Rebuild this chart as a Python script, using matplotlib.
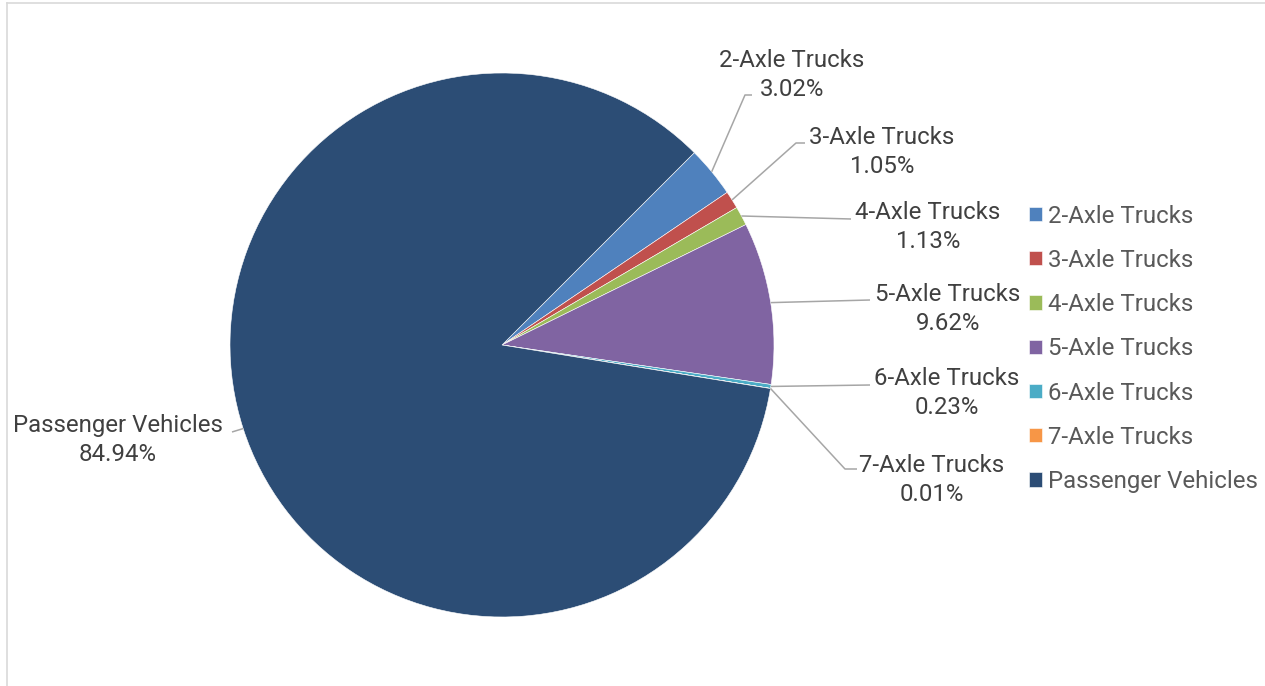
import numpy as np
import matplotlib.pyplot as plt
from matplotlib.lines import Line2D

plt.rcParams['font.family'] = ['Roboto', 'DejaVu Sans']

# data
categories = ['2-Axle Trucks', '3-Axle Trucks', '4-Axle Trucks', '5-Axle Trucks',
              '6-Axle Trucks', '7-Axle Trucks', 'Passenger Vehicles']
shares = [3.02, 1.05, 1.13, 9.62, 0.23, 0.01, 84.94]
colors = ['#4f81bd', '#c0504d', '#9bbb59', '#8064a2', '#4bacc6', '#f79646', '#2c4d75']

W, H = 1265, 686
fig = plt.figure(figsize=(W / 100, H / 100), dpi=100)
ax = fig.add_axes([0, 0, 1, 1])

# pixel-like coordinates, y measured from the top
cx, cy, R = 502, 345, 272
wedges, _ = ax.pie(shares, colors=colors, startangle=45, counterclock=False,
                   center=(cx, H - cy), radius=R,
                   wedgeprops=dict(edgecolor='white', linewidth=0.4))
ax.set_xlim(0, W)
ax.set_ylim(0, H)
ax.set_aspect('auto')
ax.axis('off')

# label layout: (text center x, baseline of name, leader path after the anchor)
label_layout = [
    (792, 67, [(745, 95), (752, 95)]),
    (882, 144, [(796, 143), (805, 143)]),
    (928, 219, [(851, 219)]),
    (948, 301, [(870, 300)]),
    (947, 385, [(870, 385)]),
    (932, 472, [(845, 469), (857, 469)]),
    (118, 432, [(232, 432)]),
]

fs = 17.3
for w, name, val, (tx, ty, path) in zip(wedges, categories, shares, label_layout):
    mid = np.deg2rad((w.theta1 + w.theta2) / 2)
    ax_x = cx + R * np.cos(mid)
    ax_y = (H - cy) + R * np.sin(mid)
    xs = [ax_x] + [p[0] for p in path]
    ys = [ax_y] + [H - p[1] for p in path]
    ax.plot(xs, ys, color='#a6a6a6', lw=1.1, solid_capstyle='butt')
    ax.text(tx, H - ty, name, ha='center', va='baseline', fontsize=fs, color='#404040')
    ax.text(tx, H - ty - 29, f'{val:.2f}%', ha='center', va='baseline', fontsize=fs,
            color='#404040')

leg = ax.legend(wedges, categories, loc='upper left',
                bbox_to_anchor=(1029 / W, 1 - 204.5 / H), bbox_transform=fig.transFigure,
                frameon=False, fontsize=fs, handlelength=0.53, handleheight=0.53,
                handletextpad=0.25, labelspacing=0.885, borderpad=0, borderaxespad=0)
for t in leg.get_texts():
    t.set_color('#595959')

# chart border (left and top edges visible)
fig.add_artist(Line2D([6.5 / W, 6.5 / W], [0, 1 - 2.5 / H], transform=fig.transFigure,
                      color='#d9d9d9', lw=1.2))
fig.add_artist(Line2D([6.5 / W, 1], [1 - 2.5 / H, 1 - 2.5 / H], transform=fig.transFigure,
                      color='#d9d9d9', lw=1.2))

fig.savefig('out.png', dpi=100, facecolor='white')
